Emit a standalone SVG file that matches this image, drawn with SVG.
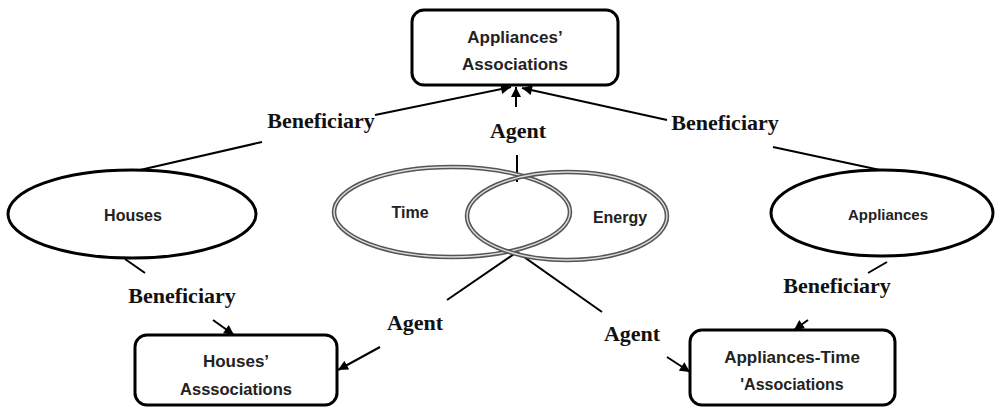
<svg xmlns="http://www.w3.org/2000/svg" width="995" height="412" viewBox="0 0 995 412">
  <defs>
    <marker id="arrow" viewBox="0 0 10 10" refX="10" refY="5" markerWidth="11" markerHeight="10" markerUnits="userSpaceOnUse" orient="auto">
      <path d="M0,0 L10,5 L0,10 z" fill="#000"/>
    </marker>
  </defs>
  <style>
    .box { fill: #fff; stroke: #000; stroke-width: 3; }
    .oval { fill: #fff; stroke: #000; stroke-width: 3; }
    .venn-outer { fill: none; stroke: #555; stroke-width: 4.5; }
    .venn-inner { fill: none; stroke: #ddd; stroke-width: 1.4; }
    .link { fill: none; stroke: #000; stroke-width: 2; }
    .arr { marker-end: url(#arrow); }
    .node-text { font-family: "Liberation Sans", Arial, sans-serif; font-weight: bold; fill: #222; text-anchor: middle; }
    .role { font-family: "Liberation Serif", "Times New Roman", serif; font-weight: bold; font-size: 22px; fill: #111; text-anchor: middle; }
  </style>

  <!-- relation lines and role labels -->
  <g id="connectors">
    <!-- Houses -> Appliances' Associations (Beneficiary) -->
    <line class="link" x1="140" y1="170" x2="262" y2="142"/>
    <line class="link arr" x1="375" y1="115" x2="511" y2="87"/>
    <text class="role" x="321" y="128">Beneficiary</text>

    <!-- Appliances -> Appliances' Associations (Beneficiary) -->
    <line class="link" x1="880" y1="170" x2="773" y2="147"/>
    <line class="link arr" x1="667" y1="120" x2="522" y2="88"/>
    <text class="role" x="725" y="130">Beneficiary</text>

    <!-- Time/Energy -> Appliances' Associations (Agent) -->
    <line class="link" x1="517" y1="182" x2="517" y2="155"/>
    <line class="link arr" x1="516" y1="107" x2="516" y2="87"/>
    <text class="role" x="518" y="138">Agent</text>

    <!-- Houses -> Houses' Associations (Beneficiary) -->
    <line class="link" x1="125" y1="259" x2="145" y2="273"/>
    <line class="link arr" x1="213" y1="320" x2="234" y2="335"/>
    <text class="role" x="182" y="303">Beneficiary</text>

    <!-- Time/Energy -> Houses' Associations (Agent) -->
    <line class="link" x1="517" y1="252" x2="447" y2="300"/>
    <line class="link arr" x1="380" y1="347" x2="338" y2="370"/>
    <text class="role" x="415" y="330">Agent</text>

    <!-- Time/Energy -> Appliances-Time Associations (Agent) -->
    <line class="link" x1="517" y1="252" x2="602" y2="312"/>
    <line class="link arr" x1="667" y1="357" x2="690" y2="372"/>
    <text class="role" x="632" y="341">Agent</text>

    <!-- Appliances -> Appliances-Time Associations (Beneficiary) -->
    <line class="link" x1="887" y1="262" x2="868" y2="273"/>
    <line class="link arr" x1="808" y1="320" x2="794" y2="330"/>
    <text class="role" x="837" y="293">Beneficiary</text>
  </g>

  <g id="appliances-associations">
    <rect class="box" x="412" y="10" width="206" height="75" rx="12"/>
    <text class="node-text" x="515" y="43" font-size="17">Appliances’</text>
    <text class="node-text" x="515" y="70" font-size="17">Associations</text>
  </g>

  <g id="houses">
    <ellipse class="oval" cx="132" cy="214" rx="124" ry="44"/>
    <text class="node-text" x="133" y="221" font-size="16">Houses</text>
  </g>

  <g id="time">
    <ellipse class="venn-outer" cx="452" cy="212" rx="118" ry="45"/>
    <ellipse class="venn-inner" cx="452" cy="212" rx="118" ry="45"/>
    <text class="node-text" x="410" y="218" font-size="16">Time</text>
  </g>

  <g id="energy">
    <ellipse class="venn-outer" cx="567" cy="216" rx="100" ry="44"/>
    <ellipse class="venn-inner" cx="567" cy="216" rx="100" ry="44"/>
    <text class="node-text" x="620" y="223" font-size="16">Energy</text>
  </g>

  <g id="appliances">
    <ellipse class="oval" cx="882" cy="213" rx="111" ry="43"/>
    <text class="node-text" x="888" y="220" font-size="15">Appliances</text>
  </g>

  <g id="houses-associations">
    <rect class="box" x="135" y="335" width="202" height="70" rx="12"/>
    <text class="node-text" x="236" y="367" font-size="17">Houses’</text>
    <text class="node-text" x="236" y="395" font-size="16.5">Asssociations</text>
  </g>

  <g id="appliances-time-associations">
    <rect class="box" x="690" y="330" width="205" height="75" rx="12"/>
    <text class="node-text" x="792" y="363" font-size="17">Appliances-Time</text>
    <text class="node-text" x="792" y="390" font-size="16">'Associations</text>
  </g>
</svg>
